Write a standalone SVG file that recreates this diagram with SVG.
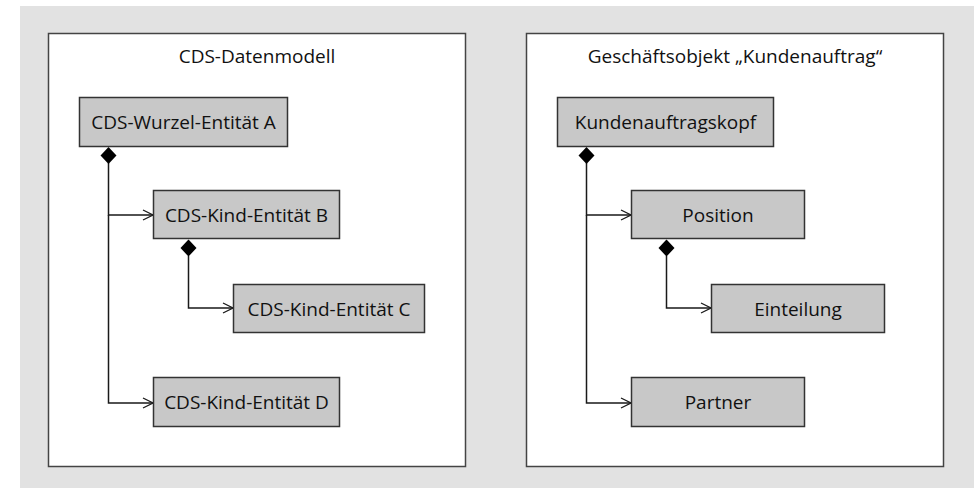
<svg xmlns="http://www.w3.org/2000/svg" width="974" height="488" viewBox="0 0 974 488">
  <defs>
    <style>
      .panel { fill: #ffffff; stroke: #444444; stroke-width: 1.5; }
      .node rect { fill: #c8c8c8; stroke: #333333; stroke-width: 1.5; }
      .node text, .title { font-family: "Open Sans", "Liberation Sans", sans-serif; font-size: 19px; fill: #111111; text-anchor: middle; }
      .link { fill: none; stroke: #1a1a1a; stroke-width: 1.5; marker-end: url(#open-arrow); }
      .diamond { fill: #000000; }
    </style>
    <marker id="open-arrow" viewBox="0 0 12 12" refX="11" refY="6" markerWidth="12" markerHeight="12" markerUnits="userSpaceOnUse" orient="auto">
      <path d="M1,1 L11,6 L1,11" fill="none" stroke="#1a1a1a" stroke-width="1.3"/>
    </marker>
  </defs>

  <!-- backdrop -->
  <rect x="20" y="6" width="954" height="482" fill="#e2e2e2"/>

  <!-- left panel: CDS data model -->
  <g id="panel-cds">
    <rect class="panel" x="48.5" y="33.5" width="417" height="433"/>
    <text class="title" x="257" y="63">CDS-Datenmodell</text>
  </g>

  <!-- right panel: business object -->
  <g id="panel-bo">
    <rect class="panel" x="526.5" y="33.5" width="417" height="433"/>
    <text class="title" x="735" y="63">Geschäftsobjekt „Kundenauftrag“</text>
  </g>

  <!-- connectors -->
  <g id="connectors">
    <!-- left tree -->
    <path class="link" d="M108.5,163 V215 H153"/>
    <path class="link" d="M108.5,215 V403 H153"/>
    <path class="link" d="M188.5,256 V308 H233"/>
    <polygon class="diamond" points="108.5,147 116.5,155.5 108.5,164 100.5,155.5"/>
    <polygon class="diamond" points="188.5,239.5 196.5,248 188.5,256.5 180.5,248"/>
    <!-- right tree -->
    <path class="link" d="M586.5,163 V215 H631"/>
    <path class="link" d="M586.5,215 V403 H631"/>
    <path class="link" d="M666.5,256 V308 H711"/>
    <polygon class="diamond" points="586.5,147 594.5,155.5 586.5,164 578.5,155.5"/>
    <polygon class="diamond" points="666.5,239.5 674.5,248 666.5,256.5 658.5,248"/>
  </g>

  <!-- left nodes -->
  <g id="node-a" class="node">
    <rect x="79.5" y="97.5" width="208" height="49"/>
    <text x="183.5" y="129">CDS-Wurzel-Entität A</text>
  </g>
  <g id="node-b" class="node">
    <rect x="153.5" y="190.5" width="186" height="48"/>
    <text x="246.5" y="222">CDS-Kind-Entität B</text>
  </g>
  <g id="node-c" class="node">
    <rect x="233.5" y="284.5" width="191" height="48"/>
    <text x="329" y="316">CDS-Kind-Entität C</text>
  </g>
  <g id="node-d" class="node">
    <rect x="153.5" y="377.5" width="186" height="49"/>
    <text x="246.5" y="409">CDS-Kind-Entität D</text>
  </g>

  <!-- right nodes -->
  <g id="node-kopf" class="node">
    <rect x="557.5" y="97.5" width="216" height="49"/>
    <text x="665.5" y="129">Kundenauftragskopf</text>
  </g>
  <g id="node-position" class="node">
    <rect x="631.5" y="190.5" width="173" height="48"/>
    <text x="718" y="222">Position</text>
  </g>
  <g id="node-einteilung" class="node">
    <rect x="711.5" y="284.5" width="173" height="48"/>
    <text x="798" y="316">Einteilung</text>
  </g>
  <g id="node-partner" class="node">
    <rect x="631.5" y="377.5" width="173" height="49"/>
    <text x="718" y="409">Partner</text>
  </g>
</svg>
